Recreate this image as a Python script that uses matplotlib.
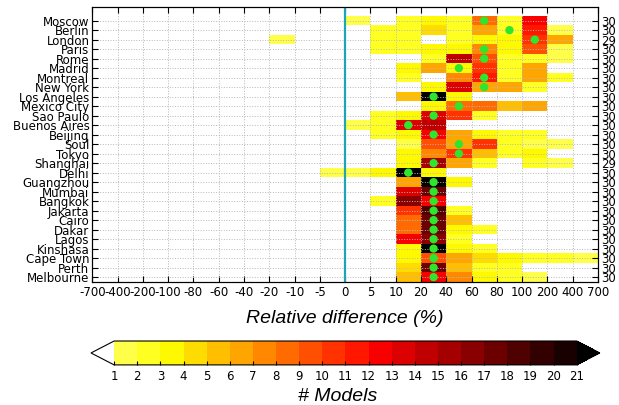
import numpy as np
import matplotlib
matplotlib.use('Agg')
import matplotlib.pyplot as plt
from matplotlib.colors import ListedColormap, BoundaryNorm

cities = ['Moscow', 'Berlin', 'London', 'Paris', 'Rome', 'Madrid', 'Montreal', 'New York',
          'Los Angeles', 'Mexico City', 'Sao Paulo', 'Buenos Aires', 'Beijing', 'Soul',
          'Tokyo', 'Shanghai', 'Delhi', 'Guangzhou', 'Mumbai', 'Bangkok', 'Jakarta', 'Cairo',
          'Dakar', 'Lagos', 'Kinshasa', 'Cape Town', 'Perth', 'Melbourne']
bin_labels = ['-700', '-400', '-200', '-100', '-80', '-60', '-40', '-20', '-10', '-5', '0',
              '5', '10', '20', '40', '60', '80', '100', '200', '400', '700']
n_models = [30, 30, 29, 30, 30, 30, 30, 30, 30, 30, 30, 30, 30, 30,
            30, 29, 30, 30, 30, 30, 30, 30, 30, 30, 30, 30, 30, 30]
# bin index of the green marker for each city
median_bin = [15, 16, 17, 15, 15, 14, 15, 15, 13, 14, 13, 12, 13, 14,
              14, 13, 12, 13, 13, 13, 13, 13, 13, 13, 13, 13, 13, 13]

# number of models per bin (20 bins, -700..700)
counts = [
    [0, 0, 0, 0, 0, 0, 0, 0, 0, 0, 1, 0, 2, 3, 2, 8, 2, 12, 0, 0],   # Moscow
    [0, 0, 0, 0, 0, 0, 0, 0, 0, 0, 0, 2, 2, 4, 2, 6, 2, 11, 1, 0],   # Berlin
    [0, 0, 0, 0, 0, 0, 0, 1, 0, 0, 0, 2, 2, 0, 2, 3, 3, 10, 6, 0],   # London
    [0, 0, 0, 0, 0, 0, 0, 0, 0, 0, 0, 2, 2, 3, 3, 7, 3, 9, 1, 0],    # Paris
    [0, 0, 0, 0, 0, 0, 0, 0, 0, 0, 0, 0, 0, 2, 14, 9, 2, 2, 1, 0],   # Rome
    [0, 0, 0, 0, 0, 0, 0, 0, 0, 0, 0, 0, 3, 6, 3, 10, 2, 6, 0, 0],   # Madrid
    [0, 0, 0, 0, 0, 0, 0, 0, 0, 0, 0, 0, 2, 0, 7, 11, 2, 6, 2, 0],   # Montreal
    [0, 0, 0, 0, 0, 0, 0, 0, 0, 0, 0, 0, 0, 3, 13, 6, 6, 2, 0, 0],   # New York
    [0, 0, 0, 0, 0, 0, 0, 0, 0, 0, 0, 0, 5, 22, 3, 0, 0, 0, 0, 0],   # Los Angeles
    [0, 0, 0, 0, 0, 0, 0, 0, 0, 0, 0, 0, 0, 3, 8, 8, 5, 6, 0, 0],    # Mexico City
    [0, 0, 0, 0, 0, 0, 0, 0, 0, 0, 0, 2, 3, 13, 10, 2, 0, 0, 0, 0],  # Sao Paulo
    [0, 0, 0, 0, 0, 0, 0, 0, 0, 0, 1, 2, 13, 14, 0, 0, 0, 0, 0, 0],  # Buenos Aires
    [0, 0, 0, 0, 0, 0, 0, 0, 0, 0, 0, 2, 3, 12, 6, 3, 2, 2, 0, 0],   # Beijing
    [0, 0, 0, 0, 0, 0, 0, 0, 0, 0, 0, 0, 1, 9, 6, 10, 2, 1, 1, 0],   # Soul
    [0, 0, 0, 0, 0, 0, 0, 0, 0, 0, 0, 0, 3, 7, 10, 5, 2, 3, 0, 0],   # Tokyo
    [0, 0, 0, 0, 0, 0, 0, 0, 0, 0, 0, 0, 3, 15, 6, 2, 0, 2, 1, 0],   # Shanghai
    [0, 0, 0, 0, 0, 0, 0, 0, 0, 1, 1, 3, 22, 3, 0, 0, 0, 0, 0, 0],   # Delhi
    [0, 0, 0, 0, 0, 0, 0, 0, 0, 0, 0, 0, 6, 21, 3, 0, 0, 0, 0, 0],   # Guangzhou
    [0, 0, 0, 0, 0, 0, 0, 0, 0, 0, 0, 0, 13, 17, 0, 0, 0, 0, 0, 0],  # Mumbai
    [0, 0, 0, 0, 0, 0, 0, 0, 0, 0, 0, 2, 16, 12, 0, 0, 0, 0, 0, 0],  # Bangkok
    [0, 0, 0, 0, 0, 0, 0, 0, 0, 0, 0, 0, 10, 18, 2, 0, 0, 0, 0, 0],  # Jakarta
    [0, 0, 0, 0, 0, 0, 0, 0, 0, 0, 0, 0, 8, 17, 5, 0, 0, 0, 0, 0],   # Cairo
    [0, 0, 0, 0, 0, 0, 0, 0, 0, 0, 0, 0, 8, 17, 3, 2, 0, 0, 0, 0],   # Dakar
    [0, 0, 0, 0, 0, 0, 0, 0, 0, 0, 0, 0, 12, 16, 2, 0, 0, 0, 0, 0],  # Lagos
    [0, 0, 0, 0, 0, 0, 0, 0, 0, 0, 0, 0, 3, 22, 3, 2, 0, 0, 0, 0],   # Kinshasa
    [0, 0, 0, 0, 0, 0, 0, 0, 0, 0, 0, 0, 3, 9, 6, 4, 3, 2, 2, 1],    # Cape Town
    [0, 0, 0, 0, 0, 0, 0, 0, 0, 0, 0, 0, 4, 17, 5, 2, 2, 0, 0, 0],   # Perth
    [0, 0, 0, 0, 0, 0, 0, 0, 0, 0, 0, 0, 5, 12, 7, 3, 2, 1, 0, 0],   # Melbourne
]

counts = np.array(counts)
n_rows = len(cities)
n_bins = len(bin_labels) - 1

cmap = ListedColormap(plt.cm.hot_r(np.linspace(0.18, 0.98, 20)))
cmap.set_under('white')
cmap.set_over('black')
levels = np.arange(1, 22)
norm = BoundaryNorm(levels, cmap.N)

fig = plt.figure(figsize=(6.19, 4.05), dpi=100)
ax = fig.add_axes([0.149, 0.304, 0.817, 0.679])

x_edges = np.arange(n_bins + 1)
y_edges = np.arange(n_rows + 1) - 0.5
mesh = ax.pcolormesh(x_edges, y_edges, counts, cmap=cmap, norm=norm, zorder=1)

zero_pos = bin_labels.index('0')
ax.axvline(zero_pos, color='#1ea5b5', lw=1.6, zorder=2)

ax.scatter(np.array(median_bin) + 0.5, np.arange(n_rows), s=36, color='#2ee62e',
           edgecolors='none', zorder=4)

ax.set_xlim(0, n_bins)
ax.set_ylim(n_rows - 0.5, -1.45)
ax.set_xticks(x_edges)
ax.set_xticklabels(bin_labels, fontsize=8.5)
ax.set_yticks(np.arange(n_rows))
ax.set_yticklabels(cities, fontsize=8.5)
ax.tick_params(direction='in', top=True, length=4, pad=3)
ax.tick_params(axis='y', pad=2)
ax.grid(True, color='0.72', ls=':', lw=0.7, zorder=1.5)

ax2 = ax.twinx()
ax2.set_ylim(ax.get_ylim())
ax2.set_yticks(np.arange(n_rows))
ax2.set_yticklabels(n_models, fontsize=8.5)
ax2.tick_params(direction='in', length=4, pad=2)

fig.text(0.557, 0.213, 'Relative difference (%)', ha='center', va='center',
         fontsize=14, style='italic', family='Liberation Sans')

cax = fig.add_axes([0.147, 0.099, 0.822, 0.059])
cb = fig.colorbar(mesh, cax=cax, orientation='horizontal', extend='both', ticks=levels)
cb.ax.tick_params(labelsize=8.5, direction='in', length=3)
cb.outline.set_linewidth(0.8)
fig.text(0.545, 0.022, '# Models', ha='center', va='center',
         fontsize=14, style='italic', family='Liberation Sans')

fig.savefig('out.png', dpi=100)
